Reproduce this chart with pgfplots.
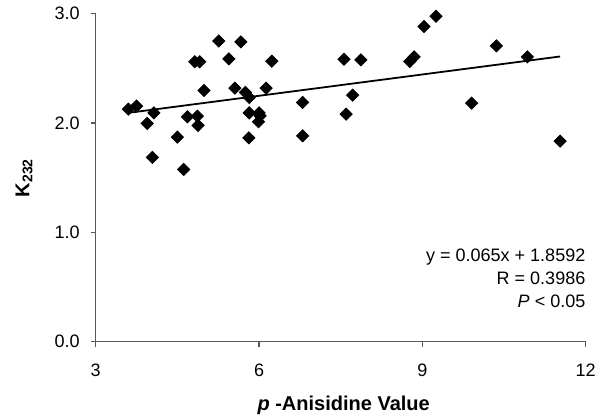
\documentclass[border=0pt]{standalone}
\usepackage{fontspec}
\setmainfont{Liberation Sans}
\usepackage{pgfplots}
\pgfplotsset{compat=1.18}

\begin{document}
\begin{tikzpicture}
\begin{axis}[
    scale only axis,
    width=245pt,
    height=164pt,
    xmin=3, xmax=12,
    ymin=0, ymax=3,
    xtick={3,6,9,12},
    ytick={0,1,2,3},
    axis x line=bottom,
    axis y line=left,
    axis line style={-, draw=black!65, line width=0.6pt},
    tick style={draw=black!65, line width=0.6pt},
    tick align=outside,
    major tick length=2.5pt,
    yticklabel style={/pgf/number format/.cd, fixed, fixed zerofill, precision=1, /tikz/.cd, xshift=-2pt},
    xticklabel style={yshift=-5pt},
    /pgf/number format/assume math mode=true,
    tick label style={font=\fontsize{9}{11}\selectfont},
    xlabel={\textbf{\textit{p}} \textbf{-Anisidine Value}},
    ylabel={\textbf{K\textsubscript{232}}},
    label style={font=\fontsize{10}{12}\selectfont},
    xlabel style={at={(axis description cs:0.506,-0.193)}, anchor=center},
    ylabel style={at={(axis description cs:-0.146,0.5)}, anchor=center},
    clip=false,
]
\addplot[only marks, mark=square*, mark size=2.15pt, mark options={rotate=45, fill=black, draw=black}]
coordinates {
    (3.60,2.127) (3.75,2.155) (4.07,2.093) (3.945,1.996) (4.04,1.686)
    (4.50,1.871) (4.617,1.576) (4.685,2.057) (4.868,2.063) (4.88,1.978)
    (4.82,2.56) (4.91,2.56) (4.99,2.298) (5.26,2.751) (5.447,2.587)
    (5.557,2.319) (5.667,2.742) (5.75,2.28) (5.82,2.234) (5.82,2.093)
    (5.813,1.865) (6.00,2.093) (6.02,2.066) (5.99,2.011) (6.13,2.319)
    (6.234,2.566) (6.80,2.188) (6.80,1.883) (7.56,2.584) (7.60,2.081)
    (7.72,2.255) (7.87,2.578) (8.77,2.563) (8.85,2.605) (9.03,2.883)
    (9.25,2.977) (9.905,2.182) (10.36,2.706) (10.93,2.605) (11.53,1.835)
};
\addplot[black, line width=0.9pt] coordinates {(3.60,2.0932) (11.53,2.6087)};
\node[anchor=east, align=right, inner sep=0pt, font=\fontsize{9}{11.5}\selectfont]
    at (axis cs:12,0.584) {y = 0.065x + 1.8592\\R = 0.3986\\\textit{P} < 0.05};
\end{axis}
\pgfresetboundingbox
\path[use as bounding box] (-47.85pt,-38.15pt) rectangle (256.15pt,170.85pt);
\end{tikzpicture}
\end{document}
